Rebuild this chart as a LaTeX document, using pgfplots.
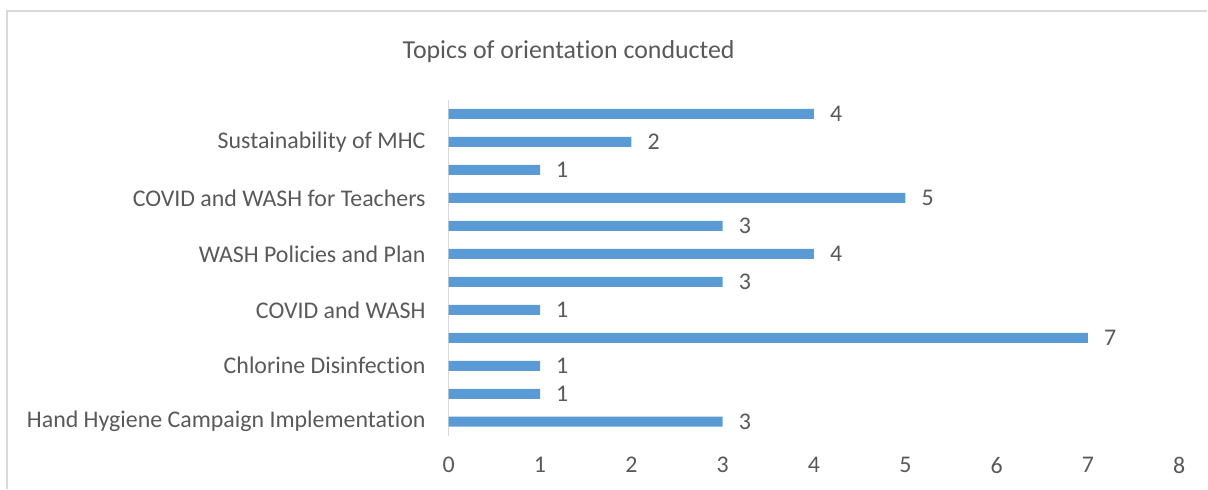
\documentclass[border=0pt]{standalone}
\usepackage{pgfplots}
\pgfplotsset{compat=1.18}
\usepackage{fontspec}
\setmainfont{Carlito}[Ligatures=NoCommon]
\definecolor{barblue}{HTML}{5B9BD5}
\definecolor{txtgray}{HTML}{595959}
\definecolor{linegray}{HTML}{D9D9D9}
\begin{document}
\begin{tikzpicture}
\path (0bp,0bp) rectangle (1208bp,489bp);
\draw[linegray, line width=1.5bp] (7bp,0bp) -- (7bp,478bp) -- (1208bp,478bp);
\node[anchor=base, text=txtgray, font=\fontsize{26}{30}\selectfont] at (569bp,430bp) {Topics of orientation conducted};
\begin{axis}[
  at={(449bp,53bp)}, anchor=south west,
  scale only axis, width=731bp, height=336bp,
  xbar, bar width=10bp,
  xmin=0, xmax=8, ymin=-0.5, ymax=11.5,
  xtick={0,1,...,8},
  ytick={0,2,4,6,8,10},
  yticklabels={Hand Hygiene Campaign Implementation, Chlorine Disinfection, COVID and WASH, WASH Policies and Plan, COVID and WASH for Teachers, Sustainability of MHC},
  axis y line*=left, axis x line*=bottom,
  x axis line style={draw=none},
  y axis line style={draw=linegray, line width=1.2bp},
  major tick length=0pt,
  /pgf/number format/assume math mode=true,
  tick label style={text=txtgray, font=\fontsize{24}{28}\selectfont},
  yticklabel style={inner sep=0pt, xshift=-23bp},
  xticklabel style={inner sep=0pt, yshift=-21bp},
  nodes near coords,
  nodes near coords style={anchor=west, inner sep=0pt, xshift=16bp, text=txtgray, font=\fontsize{24}{28}\selectfont},
  clip=false,
]
\addplot[fill=barblue, draw=none] coordinates {
(3,0) (1,1) (1,2) (7,3) (1,4) (3,5) (4,6) (3,7) (5,8) (1,9) (2,10) (4,11)};
\end{axis}
\end{tikzpicture}
\end{document}
